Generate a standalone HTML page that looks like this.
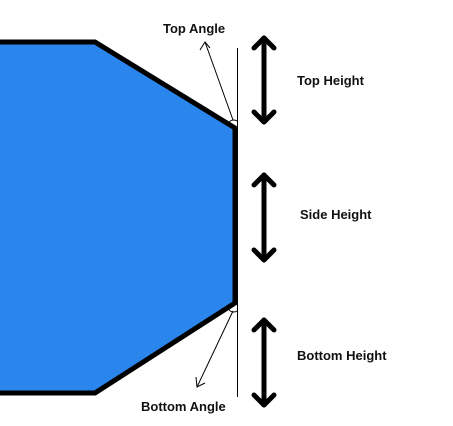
<!DOCTYPE html>
<html><head><meta charset="utf-8"><style>
html,body{margin:0;padding:0;background:#fff;}
svg{display:block;}
text{font-family:"Liberation Sans",sans-serif;font-weight:bold;font-size:13px;fill:#111;}
</style></head><body>
<svg width="453" height="426" viewBox="0 0 453 426">
<polygon points="-5,42 95,42 235,128 235,303 95,393 -5,393" fill="#2a86ec" stroke="#000" stroke-width="5" stroke-linejoin="miter"/>
<line x1="237.5" y1="48" x2="237.5" y2="397" stroke="#000" stroke-width="1"/>
<path d="M228,124 A6,6 0 0 1 237,121" fill="none" stroke="#000" stroke-width="1"/>
<path d="M228,308 A6,6 0 0 0 237,311" fill="none" stroke="#000" stroke-width="1"/>
<g stroke="#000" stroke-width="1" fill="none">
<line x1="233" y1="120" x2="205" y2="42"/><polyline points="200,50 205,42 210,48"/></g>
<g stroke="#000" stroke-width="1" fill="none">
<line x1="233" y1="311" x2="197" y2="387"/><polyline points="196,377 197,387 205,383"/></g>
<g stroke="#000" stroke-width="5" fill="none" stroke-linecap="round" stroke-linejoin="round">
<g><line x1="264" y1="38" x2="264" y2="122"/><polyline points="254,48 264,38 274,48"/><polyline points="254,112 264,122 274,112"/></g>
<g><line x1="264" y1="175" x2="264" y2="260"/><polyline points="254,185 264,175 274,185"/><polyline points="254,250 264,260 274,250"/></g>
<g><line x1="264" y1="320" x2="264" y2="405"/><polyline points="254,330 264,320 274,330"/><polyline points="254,395 264,405 274,395"/></g>
</g>
<text x="163" y="33">Top Angle</text>
<text x="297" y="85">Top Height</text>
<text x="300" y="219">Side Height</text>
<text x="297" y="360">Bottom Height</text>
<text x="141" y="411">Bottom Angle</text>
</svg>
</body></html>
